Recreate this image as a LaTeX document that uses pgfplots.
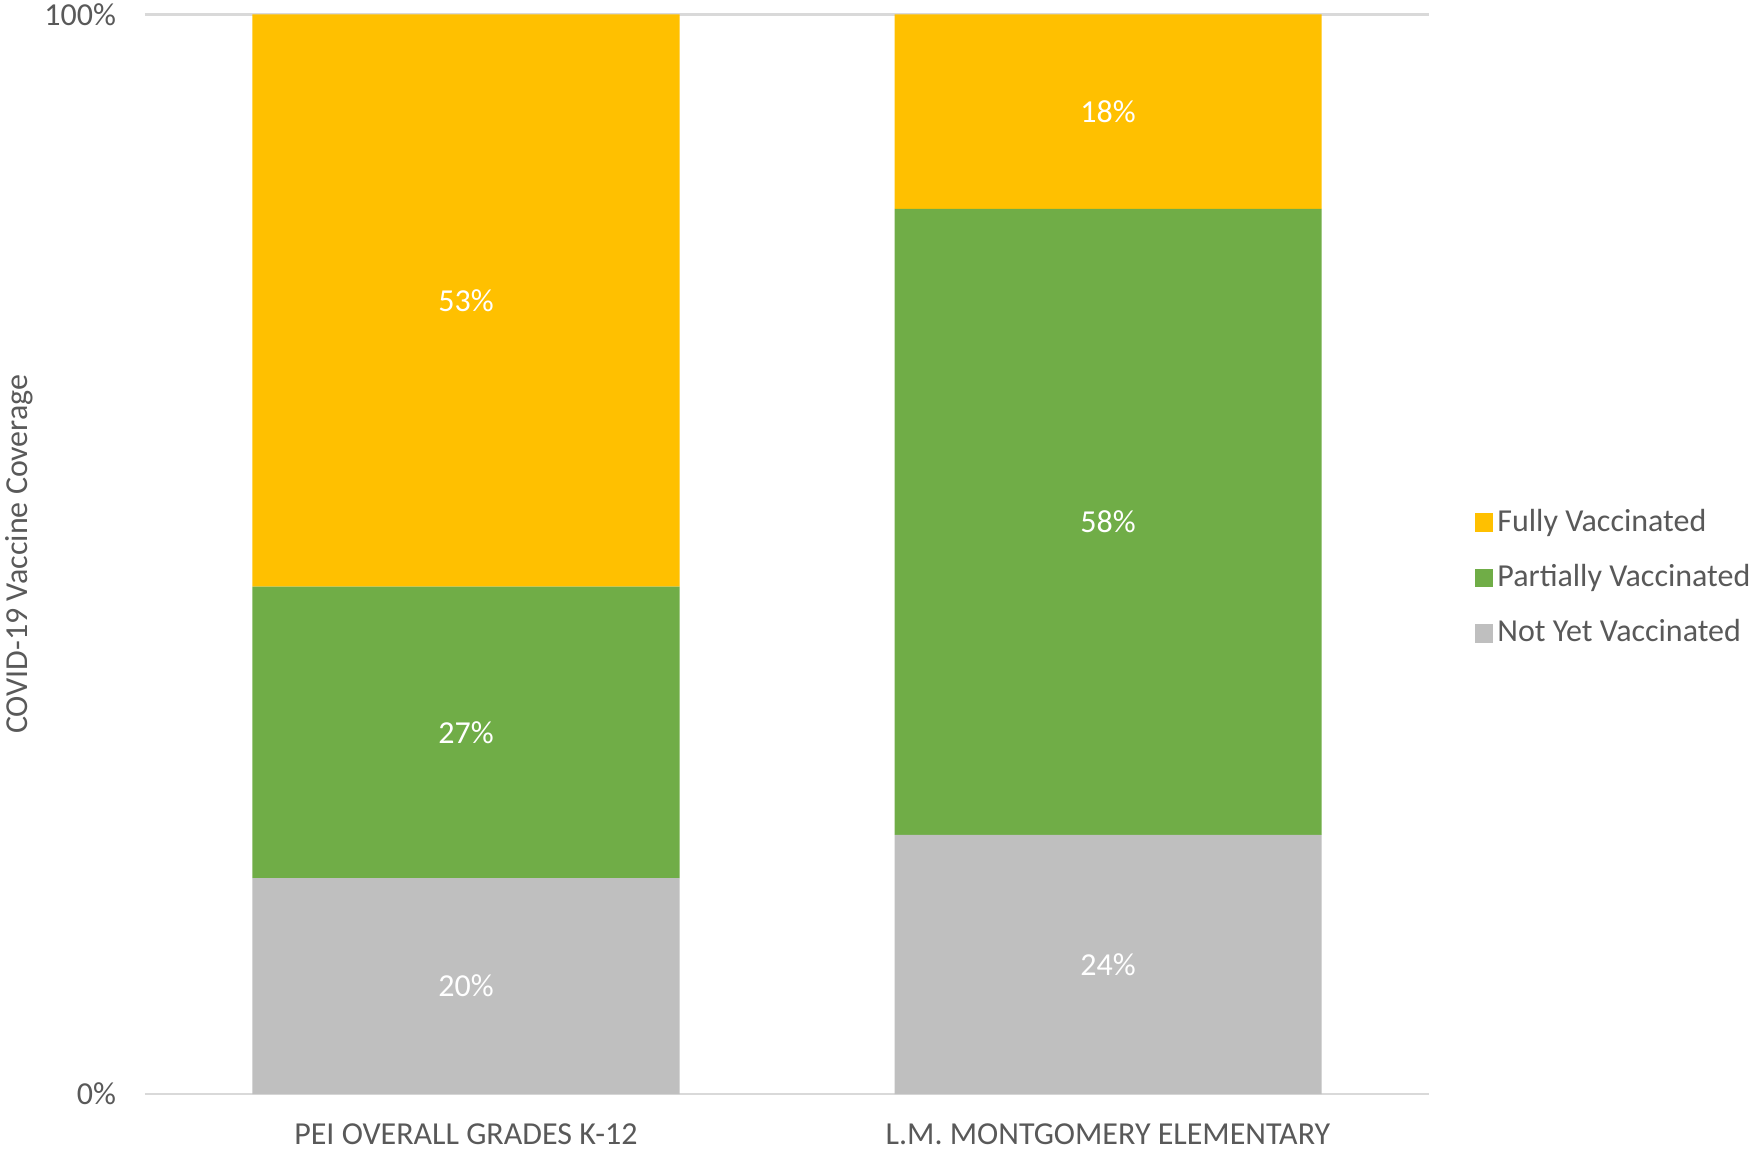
\documentclass[border=0pt]{standalone}
\usepackage{pgfplots}
\pgfplotsset{compat=1.18}
\usepackage{fontspec}
\setmainfont{Carlito}
\definecolor{cFull}{HTML}{FFC000}
\definecolor{cPart}{HTML}{70AD47}
\definecolor{cNot}{HTML}{BFBFBF}
\definecolor{cText}{HTML}{595959}
\definecolor{cGrid}{HTML}{D9D9D9}

\pgfplotsset{
	frame/.style = {
		scale only axis,
		width = 642pt,
		height = 539.75pt,
		xmin = -0.5, xmax = 1.5,
		ymin = 0, ymax = 100,
	},
}

\begin{document}
\fontsize{16}{19}\selectfont
\begin{tikzpicture}
	% frame of the whole picture (1754 x 1151 px at 0.5pt/px)
	\path[use as bounding box] (-72.5pt,-28.5pt) rectangle (804.5pt,547pt);
	\begin{axis}[
		frame,
		ybar stacked,
		bar width = 213.5pt,
		axis line style = {draw=none},
		tick style = {draw=none},
		xtick = {0,1},
		xticklabels = {PEI OVERALL GRADES K-12, L.M. MONTGOMERY ELEMENTARY},
		ytick = {0,100},
		yticklabels = {0\%, 100\%},
		ymajorgrids = true,
		grid style = {cGrid, line width=1.2pt},
		major tick length = 0pt,
		tick label style = {cText, font=\fontsize{16}{19}\selectfont},
		xticklabel style = {yshift=-9.5pt},
		yticklabel style = {xshift=-9pt},
		ylabel = {COVID-19 Vaccine Coverage},
		% label is rotated, so its yshift moves it to the left
		ylabel style = {cText, font=\fontsize{16}{19}\selectfont,
			at={(rel axis cs:0,0.5)}, anchor=center, yshift=63pt},
		legend cell align = left,
		reverse legend,
		legend style = {
			draw = none, fill = none,
			at = {(rel axis cs:1.0305,0.478)},
			anchor = west,
			font = \fontsize{16}{19}\selectfont,
			text = cText,
			row sep = 10.1pt,
		},
		legend image code/.code = {\fill[#1] (0pt,-4.7pt) rectangle (9.4pt,4.7pt);},
	]
	\addplot[fill=cNot, draw=none] coordinates {(0,20) (1,24)};
	\addplot[fill=cPart, draw=none] coordinates {(0,27) (1,58)};
	\addplot[fill=cFull, draw=none] coordinates {(0,53) (1,18)};
	\legend{Not Yet Vaccinated, Partially Vaccinated, Fully Vaccinated}
	\end{axis}

	% value labels in the middle of each segment
	\begin{axis}[
		frame,
		hide axis,
		nodes near coords,
		point meta = explicit symbolic,
		every node near coord/.append style = {white, anchor=center, font=\fontsize{16}{19}\selectfont},
	]
	\addplot[only marks, mark=none] coordinates {
		(0,10) [20\%] (0,33.5) [27\%] (0,73.5) [53\%]
		(1,12) [24\%] (1,53) [58\%] (1,91) [18\%]
	};
	\end{axis}
\end{tikzpicture}
\end{document}
